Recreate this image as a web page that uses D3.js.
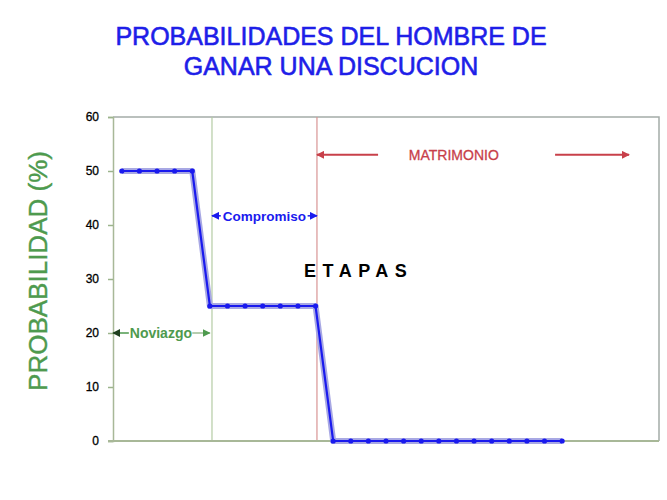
<!DOCTYPE html>
<html>
<head>
<meta charset="utf-8">
<script src="https://cdn.jsdelivr.net/npm/d3@7"></script>
<style>
  body { margin: 0; background: #fff; }
  svg text { font-family: Arial, "Liberation Sans", sans-serif; }
</style>
</head>
<body>
<svg id="chart" width="667" height="500"></svg>
<script>
// datos
var puntos = d3.range(26);
var probabilidad = [50, 50, 50, 50, 50,
                    25, 25, 25, 25, 25, 25, 25,
                    0, 0, 0, 0, 0, 0, 0, 0, 0, 0, 0, 0, 0, 0];
var yTicks = [0, 10, 20, 30, 40, 50, 60];
var limites = [5.62, 11.58];   // separaciones entre etapas (unidades x)

var titulo = ["PROBABILIDADES DEL HOMBRE DE", "GANAR UNA DISCUCION"];

var svg = d3.select("#chart");

var margin = { top: 117, right: 8, bottom: 59, left: 113 };
var width = 667 - margin.left - margin.right;
var height = 500 - margin.top - margin.bottom;

var x = d3.scaleLinear().domain([0, 31]).range([0, width]);
var y = d3.scaleLinear().domain([0, 60]).range([height, 0]);

// flechas
var defs = svg.append("defs");
function flecha(id, color) {
    defs.append("marker")
        .attr("id", id)
        .attr("viewBox", "0 0 10 10")
        .attr("refX", 9).attr("refY", 5)
        .attr("markerWidth", 8).attr("markerHeight", 8)
        .attr("markerUnits", "userSpaceOnUse")
        .attr("orient", "auto-start-reverse")
        .append("path")
        .attr("d", "M0,0 L10,5 L0,10 z")
        .attr("fill", color);
}
flecha("fl-verde", "#4e9a4e");
flecha("fl-oscuro", "#1f3f1f");
flecha("fl-azul", "#1a1aee");
flecha("fl-rojo", "#c8404a");

// titulo
svg.selectAll(".titulo")
    .data(titulo)
    .enter().append("text")
    .attr("class", "titulo")
    .attr("x", 331)
    .attr("y", function(d, i) { return 45 + i * 29.5; })
    .attr("text-anchor", "middle")
    .attr("fill", "#1e1ee8")
    .attr("stroke", "#1e1ee8")
    .attr("stroke-width", 0.6)
    .style("font-size", "25px")
    .text(function(d) { return d; });

// etiqueta eje y
svg.append("text")
    .attr("transform", "translate(47,271) rotate(-90)")
    .attr("text-anchor", "middle")
    .attr("fill", "#4e9a4e")
    .attr("stroke", "#4e9a4e")
    .attr("stroke-width", 0.4)
    .style("font-size", "26px")
    .text("PROBABILIDAD (%)");

var chart = svg.append("g")
    .attr("transform", "translate(" + margin.left + "," + margin.top + ")");

// marco superior y derecho
chart.append("path")
    .attr("d", "M0,0 H" + width + " V" + height)
    .attr("fill", "none")
    .attr("stroke", "#a4aca8")
    .attr("stroke-width", 1.5);

// lineas de etapas
chart.append("line")
    .attr("x1", x(limites[0])).attr("x2", x(limites[0]))
    .attr("y1", 0).attr("y2", height)
    .attr("stroke", "#b4cca4").attr("stroke-width", 1.2);
chart.append("line")
    .attr("x1", x(limites[1])).attr("x2", x(limites[1]))
    .attr("y1", 0).attr("y2", height)
    .attr("stroke", "#d89494").attr("stroke-width", 1.2);

// eje y
var yAxis = chart.append("g")
    .attr("id", "y-axis")
    .call(d3.axisLeft(y).tickValues(yTicks).tickSize(5).tickPadding(9));
yAxis.select(".domain").attr("stroke", "#a8b898").attr("stroke-width", 1.5);
yAxis.selectAll(".tick line").attr("stroke", "#9cb48c").attr("stroke-width", 1.5);
yAxis.selectAll(".tick text")
    .attr("fill", "#000")
    .attr("stroke", "#000")
    .attr("stroke-width", 0.3)
    .style("font-size", "12px")
    .style("font-family", "Arial, 'Liberation Sans', sans-serif");

// eje x (sin etiquetas)
chart.append("line")
    .attr("x1", -5).attr("x2", width)
    .attr("y1", y(0)).attr("y2", y(0))
    .attr("stroke", "#a8b898").attr("stroke-width", 2);

// texto ETAPAS
chart.append("text")
    .attr("x", 304 - margin.left)
    .attr("y", 277 - margin.top)
    .attr("fill", "#000")
    .style("font-size", "18px")
    .style("font-weight", "bold")
    .style("letter-spacing", "6.5px")
    .text("ETAPAS");

// Noviazgo
var yNov = y(20);
chart.append("line")
    .attr("x1", x(0.9)).attr("y1", yNov).attr("x2", x(0)).attr("y2", yNov)
    .attr("stroke", "#4e9a4e").attr("stroke-width", 1.5)
    .attr("marker-end", "url(#fl-oscuro)");
chart.append("line")
    .attr("x1", x(4.5)).attr("y1", yNov).attr("x2", x(5.5)).attr("y2", yNov)
    .attr("stroke", "#9cbc94").attr("stroke-width", 1.5)
    .attr("marker-end", "url(#fl-verde)");
chart.append("text")
    .attr("x", x(2.72)).attr("y", yNov + 5)
    .attr("text-anchor", "middle")
    .attr("fill", "#4e9a4e")
    .style("font-size", "14px").style("font-weight", "bold")
    .text("Noviazgo");

// Compromiso
var yComp = y(41.7);
chart.append("line")
    .attr("x1", x(limites[0] + 0.5)).attr("y1", yComp).attr("x2", x(limites[0])).attr("y2", yComp)
    .attr("stroke", "#1a1aee").attr("stroke-width", 1.5)
    .attr("marker-end", "url(#fl-azul)");
chart.append("line")
    .attr("x1", x(11.05)).attr("y1", yComp).attr("x2", x(limites[1])).attr("y2", yComp)
    .attr("stroke", "#1a1aee").attr("stroke-width", 1.5)
    .attr("marker-end", "url(#fl-azul)");
chart.append("text")
    .attr("x", x(8.6)).attr("y", yComp + 5)
    .attr("text-anchor", "middle")
    .attr("fill", "#1a1aee")
    .style("font-size", "13.5px").style("font-weight", "bold")
    .text("Compromiso");

// Matrimonio
var yMat = y(53);
chart.append("line")
    .attr("x1", x(15.05)).attr("y1", yMat).attr("x2", x(limites[1])).attr("y2", yMat)
    .attr("stroke", "#c8404a").attr("stroke-width", 2)
    .attr("marker-end", "url(#fl-rojo)");
chart.append("line")
    .attr("x1", x(25.1)).attr("y1", yMat).attr("x2", x(29.3)).attr("y2", yMat)
    .attr("stroke", "#c8404a").attr("stroke-width", 2)
    .attr("marker-end", "url(#fl-rojo)");
chart.append("text")
    .attr("x", x(19.35)).attr("y", yMat + 5)
    .attr("text-anchor", "middle")
    .attr("fill", "#c8404a")
    .attr("stroke", "#c8404a")
    .attr("stroke-width", 0.3)
    .style("font-size", "14px")
    .text("MATRIMONIO");

// serie
var line = d3.line()
    .x(function(d, i) { return x(puntos[i] + 0.5); })
    .y(function(d) { return y(d); });

chart.append("path")
    .datum(probabilidad)
    .attr("d", line)
    .attr("fill", "none")
    .attr("stroke", "#a8a8e4")
    .attr("stroke-width", 6)
    .attr("stroke-linejoin", "round");
chart.append("path")
    .datum(probabilidad)
    .attr("d", line)
    .attr("fill", "none")
    .attr("stroke", "#1a1aee")
    .attr("stroke-width", 2.2);

chart.selectAll(".punto")
    .data(probabilidad)
    .enter().append("circle")
    .attr("class", "punto")
    .attr("cx", function(d, i) { return x(puntos[i] + 0.5); })
    .attr("cy", function(d) { return y(d); })
    .attr("r", 2.6)
    .attr("fill", "#1a1aee");
</script>
</body>
</html>
